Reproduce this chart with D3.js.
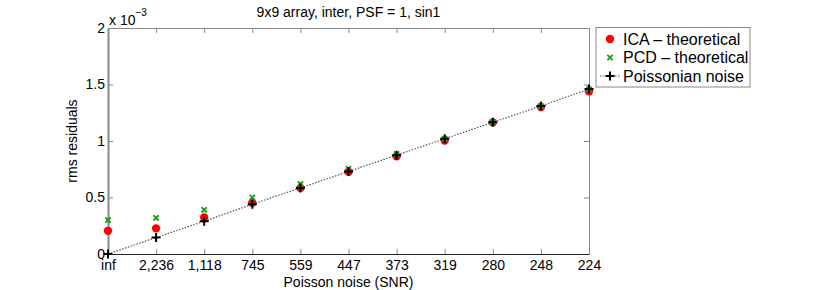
<!DOCTYPE html>
<html>
<head>
<meta charset="utf-8">
<script src="https://cdn.jsdelivr.net/npm/d3@7"></script>
<style>
  body { margin: 0; background: #fff; }
  svg text { font-family: 'Liberation Sans', Arial, sans-serif; fill: #000; }
</style>
</head>
<body>
<svg id="chart" width="830" height="290"></svg>
<script>
// values in units of 1e-3
const snrLabels = ['inf', '2,236', '1,118', '745', '559', '447', '373', '319', '280', '248', '224']
const icaValues = [0.205, 0.227, 0.324, 0.454, 0.585, 0.728, 0.864, 1.005, 1.165, 1.30, 1.44]
const pcdValues = [0.30, 0.32, 0.39, 0.50, 0.62, 0.755, 0.885, 1.02, 1.17, 1.31, 1.46]
const poissonValues = [0, 0.146, 0.29, 0.44, 0.585, 0.73, 0.875, 1.02, 1.165, 1.31, 1.46]
const yTicks = [0, 0.5, 1, 1.5, 2]
const yTickLabels = ['0', '0.5', '1', '1.5', '2']

const MARGINS = { left: 108, right: 241, top: 28, bottom: 36 }
const WIDTH = 830
const HEIGHT = 290

const vis = d3.select('#chart')

const xScale = d3.scaleLinear()
  .domain([0, snrLabels.length - 1])
  .range([MARGINS.left, WIDTH - MARGINS.right])
const yScale = d3.scaleLinear()
  .domain([0, 2])
  .range([HEIGHT - MARGINS.bottom, MARGINS.top])

const x0 = xScale.range()[0]
const x1 = xScale.range()[1]
const yBottom = yScale.range()[0]
const yTop = yScale.range()[1]

// top / right ticks (inward, mirrored)
const xAxisTop = d3.axisTop(xScale).tickValues(d3.range(snrLabels.length)).tickSizeInner(-5).tickSizeOuter(0).tickFormat('')
const yAxisRight = d3.axisRight(yScale).tickValues(yTicks).tickSizeInner(-5).tickSizeOuter(0).tickFormat('')

vis.append('g')
  .attr('transform', `translate(0, ${yTop})`)
  .call(xAxisTop)
  .call(g => g.select('.domain').attr('stroke', '#888'))
  .call(g => g.selectAll('.tick line').attr('stroke', '#888'))

vis.append('g')
  .attr('transform', `translate(${x1}, 0)`)
  .call(yAxisRight)
  .call(g => g.select('.domain').attr('stroke', '#888'))
  .call(g => g.selectAll('.tick line').attr('stroke', '#888'))

const xAxis = d3.axisBottom(xScale)
  .tickValues(d3.range(snrLabels.length))
  .tickSizeInner(-5)
  .tickSizeOuter(0)
  .tickPadding(6)
  .tickFormat(i => snrLabels[i])

const yAxis = d3.axisLeft(yScale)
  .tickValues(yTicks)
  .tickSizeInner(-5)
  .tickSizeOuter(0)
  .tickPadding(8)
  .tickFormat((d, i) => yTickLabels[i])

vis.append('g')
  .attr('transform', `translate(0, ${yBottom})`)
  .call(xAxis)
  .call(g => g.select('.domain').attr('stroke', '#222'))
  .call(g => g.selectAll('.tick line').attr('stroke', '#888'))
  .call(g => g.selectAll('.tick text').attr('font-size', 14))

vis.append('g')
  .attr('transform', `translate(${x0}, 0)`)
  .call(yAxis)
  .call(g => g.select('.domain').attr('stroke', '#888').attr('stroke-width', 2))
  .call(g => g.selectAll('.tick line').attr('stroke', '#888'))
  .call(g => g.selectAll('.tick text').attr('font-size', 14).attr('dx', 5))

// dotted poissonian line
const lineGen = d3.line()
  .x((d, i) => xScale(i))
  .y(d => yScale(d))

vis.append('path')
  .attr('d', lineGen(poissonValues))
  .attr('fill', 'none')
  .attr('stroke', '#555')
  .attr('stroke-width', 1.2)
  .attr('stroke-dasharray', '1.5,1.5')

// ICA: red dots
vis.append('g').selectAll('circle')
  .data(icaValues)
  .join('circle')
  .attr('cx', (d, i) => xScale(i))
  .attr('cy', d => yScale(d))
  .attr('r', 4.2)
  .attr('fill', '#ff0000')

const crossPath = s => `M${-s},${-s}L${s},${s}M${-s},${s}L${s},${-s}`
const plusPath = s => `M${-s},0L${s},0M0,${-s}L0,${s}`

// PCD: green crosses
vis.append('g').selectAll('path')
  .data(pcdValues)
  .join('path')
  .attr('transform', (d, i) => `translate(${xScale(i)}, ${yScale(d)})`)
  .attr('d', crossPath(2.6))
  .attr('stroke', '#1fa01f')
  .attr('stroke-width', 2)

// Poissonian: black plus
vis.append('g').selectAll('path')
  .data(poissonValues)
  .join('path')
  .attr('transform', (d, i) => `translate(${xScale(i)}, ${yScale(d)})`)
  .attr('d', plusPath(4.5))
  .attr('stroke', '#000')
  .attr('stroke-width', 2)

// title, labels
vis.append('text')
  .attr('x', (x0 + x1) / 2)
  .attr('y', 17)
  .attr('text-anchor', 'middle')
  .attr('font-size', 14)
  .text('9x9 array, inter, PSF = 1, sin1')

vis.append('text')
  .attr('x', (x0 + x1) / 2)
  .attr('y', 287)
  .attr('text-anchor', 'middle')
  .attr('font-size', 14)
  .text('Poisson noise (SNR)')

vis.append('text')
  .attr('transform', `translate(77, ${(yTop + yBottom) / 2}) rotate(-90)`)
  .attr('text-anchor', 'middle')
  .attr('font-size', 14)
  .text('rms residuals')

const expLabel = vis.append('text')
  .attr('x', x0 + 1)
  .attr('y', 25)
  .attr('font-size', 14)
expLabel.append('tspan').text('x 10')
expLabel.append('tspan').attr('dy', -9).attr('font-size', 10).text('−3')

// legend
const legend = vis.append('g').attr('transform', 'translate(596, 27.5)')
legend.append('rect')
  .attr('width', 154)
  .attr('height', 59.5)
  .attr('fill', '#fff')
  .attr('stroke', '#888')

const legendItems = ['ICA – theoretical', 'PCD – theoretical', 'Poissonian noise']
legendItems.forEach((label, i) => {
  const y = 11.5 + i * 18.5
  const mx = 14
  if (i === 0) {
    legend.append('circle').attr('cx', mx).attr('cy', y).attr('r', 4.2).attr('fill', '#ff0000')
  } else if (i === 1) {
    legend.append('path').attr('transform', `translate(${mx}, ${y})`).attr('d', crossPath(2.6))
      .attr('stroke', '#1fa01f').attr('stroke-width', 2)
  } else {
    legend.append('line').attr('x1', 4).attr('x2', 24).attr('y1', y).attr('y2', y)
      .attr('stroke', '#555').attr('stroke-width', 1.2).attr('stroke-dasharray', '1.5,1.5')
    legend.append('path').attr('transform', `translate(${mx}, ${y})`).attr('d', plusPath(4.5))
      .attr('stroke', '#000').attr('stroke-width', 2)
  }
  legend.append('text')
    .attr('x', 27)
    .attr('y', y + 5.5)
    .attr('font-size', 16)
    .text(label)
})
</script>
</body>
</html>
